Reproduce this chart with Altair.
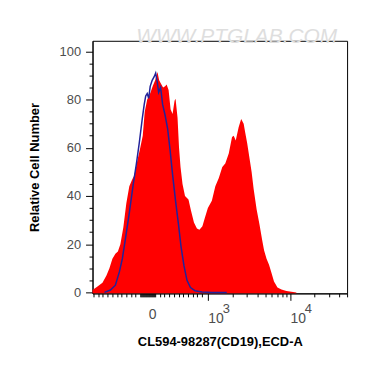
import altair as alt
import pandas as pd

# ---- data (x in display channel units 0..256, y = relative cell number)
red_x = [0, 5, 10, 14, 17, 20, 23, 25.5, 28, 31, 34, 37, 40, 42, 45, 48, 50.5, 52.5, 55, 57.5,
         60.5, 63, 65.3, 67, 69, 71, 73, 74.5, 76.5, 78.5, 80.5, 82.5, 83.5, 85.5, 87, 88.5, 90.5,
         93, 96.5, 99, 102, 105, 107.5, 110.5, 113, 116, 120, 123.5, 127, 130.5, 133.5, 137,
         140.3, 142, 144, 147, 149.5, 152, 153.5, 155.5, 158.5, 160, 162, 165, 168, 170.5, 172.5,
         175, 177.5, 180, 182.5, 186, 190, 195, 200, 205]
red_y = [1.0, 2.5, 4, 7, 10, 14, 16, 17, 20, 27, 37, 44, 47, 48.5, 54.5, 60, 65, 75, 80, 82,
         85.5, 88, 91.5, 88, 86.5, 85, 85.5, 86.3, 84, 76, 74, 79.5, 80.3, 72.5, 60, 52, 45,
         40, 38.5, 34, 29, 26.5, 26, 27.5, 31, 35, 38, 44, 47.5, 52, 53.5, 57.6,
         64.5, 65, 63, 68.6, 72, 70, 66.5, 62, 54, 50, 43, 34.5, 28, 22, 17.5,
         14, 11.5, 8, 4.5, 2, 1.2, 0.6, 0.3, 0]

blue_x = [12, 18, 23, 27, 30, 33, 37, 41, 44, 47, 50, 52, 53.5, 55, 56.5, 58, 60, 62, 63.5, 65,
          66.5, 68.5, 70.5, 73, 75.5, 78, 80.5, 83.5, 86.5, 89, 92, 95, 98.5, 103, 110, 120, 135]
blue_y = [0, 1.0, 3.0, 8.5, 14, 22, 33, 45, 53, 62, 72, 78, 81.5, 82.5, 80.5, 85.5, 88, 89.5, 91, 87.5,
          83, 85, 78, 73.5, 68, 59, 49, 38, 28, 19, 11, 5, 2, 0.7, 0.2, 0, 0]

x_major_pos = [56, 116, 198.5]
x_major_lab = ["0", "10", "10"]
x_exp_pos = [116, 198.5]
x_exp_lab = ["3", "4"]
x_minor_pos = [1, 5.7, 10.4, 15.1, 19.8, 24.5, 29.2, 33.9, 38.6, 43.3,
               48, 49, 50, 51, 52, 53, 54, 55, 57, 58, 59, 60, 61, 62, 63,
               67.7, 72.4, 77.1, 81.8, 86.5, 91.2, 95.9, 100.6, 105.3, 110,
               140.8, 155.4, 165.7, 173.7, 180.2, 185.7, 190.5, 194.7,
               223.3, 237.9, 248.2, 256]
y_tick_pos = [0, 5, 10, 15, 20, 25, 30, 35, 40, 45, 50, 55, 60, 65, 70, 75, 80, 85, 90, 95, 100]

x_domain = [0, 256]
y_domain = [-0.4, 104.4]

red_df = pd.DataFrame({"x": red_x, "y": red_y})
blue_df = pd.DataFrame({"x": blue_x, "y": blue_y})
exp_df = pd.DataFrame({"x": x_exp_pos, "t": x_exp_lab})

label_expr = " : ".join(
    f"abs(datum.value - {p}) < 0.01 ? '{l}'" for p, l in zip(x_major_pos, x_major_lab)
) + " : ''"
major_test = " || ".join(f"abs(datum.value - {p}) < 0.01" for p in x_major_pos[1:])

x_scale = alt.Scale(domain=x_domain, nice=False, zero=False)
y_scale = alt.Scale(domain=y_domain, nice=False, zero=False)

x_axis = alt.Axis(
    values=sorted(x_major_pos + x_minor_pos),
    labelExpr=label_expr,
    tickSize={"condition": {"test": major_test, "value": 7}, "value": 3.5},
    labelAlign="left",
    labelBaseline="top",
    labelPadding=11,
    labelOverlap=False,
    labelFlush=False,
    labelBound=False,
    labelFont="Liberation Sans",
    labelFontSize=14,
    labelColor="#4d4d4d",
    tickColor="black",
    domainColor="black",
    grid=False,
    title="CL594-98287(CD19),ECD-A",
    titleFont="Liberation Sans",
    titleFontSize=13,
    titleFontWeight="bold",
    titleColor="black",
    titlePadding=10,
)

y_axis = alt.Axis(
    values=y_tick_pos,
    labelExpr="datum.value % 20 == 0 ? datum.value : ''",
    tickSize={"condition": {"test": "datum.value % 20 == 0", "value": 7}, "value": 3.5},
    labelPadding=5,
    labelOverlap=False,
    labelFlush=False,
    labelBound=False,
    labelFont="Liberation Sans",
    labelFontSize=13,
    labelColor="#4d4d4d",
    tickColor="black",
    domainColor="black",
    grid=False,
    title="Relative Cell Number",
    titleFont="Liberation Sans",
    titleFontSize=13,
    titleFontWeight="bold",
    titleColor="black",
    titlePadding=18,
)

area = alt.Chart(red_df).mark_area(color="#ff0000", opacity=1).encode(
    x=alt.X("x:Q", scale=x_scale, axis=x_axis),
    y=alt.Y("y:Q", scale=y_scale, axis=y_axis),
    y2=alt.datum(y_domain[0]),
)

line = alt.Chart(blue_df).mark_line(color="#22229a", strokeWidth=1.5).encode(
    x=alt.X("x:Q", scale=x_scale, axis=x_axis),
    y=alt.Y("y:Q", scale=y_scale, axis=y_axis),
)

exponents = alt.Chart(exp_df).mark_text(
    font="Liberation Sans", fontSize=13, color="#4d4d4d",
    align="left", baseline="top", dx=15, clip=False,
).encode(
    x=alt.X("x:Q", scale=x_scale, axis=x_axis),
    y=alt.value(264),
    text="t:N",
)

watermark = alt.Chart(pd.DataFrame({"t": ["WWW.PTGLAB.COM"]})).mark_text(
    font="Liberation Sans", fontSize=21, fontStyle="italic", color="#dedede",
    align="center", baseline="middle", clip=False,
).encode(text="t:N", x=alt.value(145), y=alt.value(-4))

chart = alt.layer(area, line, exponents, watermark).properties(
    width=256, height=254,
    background="white",
    autosize=alt.AutoSizeParams(type="none"),
    padding={"left": 85, "top": 32, "right": 15, "bottom": 60},
).configure_view(stroke="black", strokeWidth=1)

chart.save("out.html", embed_options={"renderer": "svg", "actions": False})
